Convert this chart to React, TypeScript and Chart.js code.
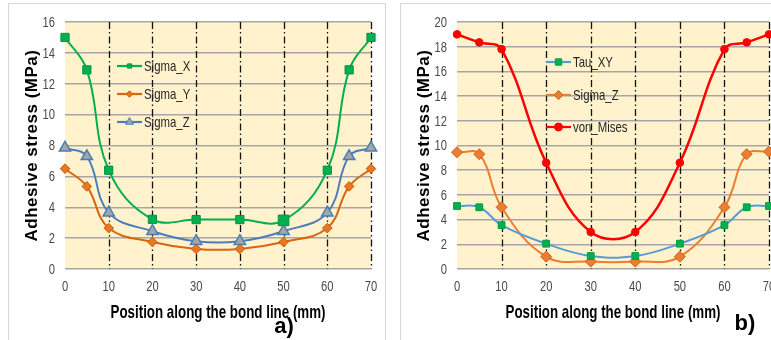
import React, { useEffect, useRef } from 'react';
import { Chart, registerables } from 'chart.js';
Chart.register(...registerables);

// ---------- data ----------
const positions = [0, 5, 10, 20, 30, 40, 50, 60, 65, 70];
const xTickStep = 10;
const yTickStep = 2;
const xGridValues = [10, 20, 30, 40, 50, 60, 70];

const sigmaX = [15, 12.9, 6.4, 3.22, 3.2, 3.2, 3.15, 6.4, 12.9, 15];
const sigmaY = [6.5, 5.35, 2.65, 1.75, 1.3, 1.3, 1.75, 2.65, 5.35, 6.5];
const sigmaZa = [7.85, 7.3, 3.65, 2.45, 1.8, 1.8, 2.45, 3.65, 7.3, 7.85];

const tauXY = [5.1, 5.0, 3.55, 2.05, 1.05, 1.05, 2.05, 3.55, 5.0, 5.1];
const sigmaZb = [9.45, 9.3, 5.0, 1.0, 0.6, 0.6, 1.0, 5.0, 9.3, 9.5];
const vonMises = [19, 18.35, 17.8, 8.6, 3.0, 3.0, 8.6, 17.8, 18.35, 19];

const yTitle = 'Adhesive stress (MPa)';
const xTitle = 'Position along the bond line (mm)';

const ARIAL = "'Liberation Sans', Arial, sans-serif";
const NARROW_SX = 0.8;

type MarkerStyle = 'rect' | 'rectRot' | 'triangle' | 'circle';

function drawMarker(ctx: CanvasRenderingContext2D, style: MarkerStyle, x: number, y: number, r: number, fill: string, stroke: string, lw: number) {
  ctx.save();
  ctx.beginPath();
  if (style === 'rect') {
    const s = r * Math.SQRT1_2;
    ctx.rect(x - s, y - s, 2 * s, 2 * s);
  } else if (style === 'rectRot') {
    ctx.moveTo(x, y - r); ctx.lineTo(x + r, y); ctx.lineTo(x, y + r); ctx.lineTo(x - r, y); ctx.closePath();
  } else if (style === 'triangle') {
    for (let k = 0; k < 3; k++) {
      const ang = -Math.PI / 2 + k * 2 * Math.PI / 3;
      const px = x + Math.cos(ang) * r, py = y + Math.sin(ang) * r;
      if (k === 0) ctx.moveTo(px, py); else ctx.lineTo(px, py);
    }
    ctx.closePath();
  } else {
    ctx.arc(x, y, r, 0, Math.PI * 2);
  }
  ctx.fillStyle = fill; ctx.fill();
  if (lw > 0) { ctx.lineWidth = lw; ctx.strokeStyle = stroke; ctx.stroke(); }
  ctx.restore();
}

function fillScaled(ctx: CanvasRenderingContext2D, text: string, x: number, y: number, sx: number, align: CanvasTextAlign) {
  ctx.save();
  ctx.translate(x, y);
  ctx.scale(sx, 1);
  ctx.textAlign = align;
  ctx.textBaseline = 'middle';
  ctx.fillText(text, 0, 0);
  ctx.restore();
}

interface Decor {
  label: string;
  labelDx: number;
  labelDy: number;
  legendDx: number;
  legendDy: number[];
  legendR: number[];
}

const decor = (d: Decor) => ({
  id: 'decor',
  beforeDraw(chart: any) {
    const { ctx, chartArea: a } = chart;
    ctx.save();
    ctx.fillStyle = '#fff2cc';
    ctx.fillRect(a.left, a.top, a.right - a.left, a.bottom - a.top);
    ctx.restore();
  },
  beforeDatasetsDraw(chart: any) {
    const { ctx, chartArea: a } = chart;
    const xs = chart.scales.x;
    ctx.save();
    ctx.beginPath();
    for (const v of xGridValues) {
      const px = Math.round(xs.getPixelForValue(v)) + 0.5;
      ctx.moveTo(px, a.top);
      ctx.lineTo(px, a.bottom);
    }
    ctx.setLineDash([7, 3, 1.5, 3]);
    ctx.strokeStyle = '#111';
    ctx.lineWidth = 1.3;
    ctx.stroke();
    ctx.restore();
  },
  afterDraw(chart: any) {
    const { ctx, chartArea: a } = chart;
    const xs = chart.scales.x;
    const ys = chart.scales.y;
    ctx.save();
    // tick labels (condensed)
    ctx.font = `14px ${ARIAL}`;
    ctx.fillStyle = '#4a4a4a';
    xs.ticks.forEach((t: any, i: number) => {
      fillScaled(ctx, String(t.value), xs.getPixelForTick(i), a.bottom + 18, NARROW_SX, 'center');
    });
    ys.ticks.forEach((t: any, i: number) => {
      fillScaled(ctx, String(t.value), a.left - 10, ys.getPixelForTick(i) + 1, NARROW_SX, 'right');
    });

    ctx.fillStyle = '#000';
    ctx.textAlign = 'center';
    ctx.textBaseline = 'middle';
    // y title
    ctx.save();
    ctx.translate(a.left - 33, (a.top + a.bottom) / 2);
    ctx.rotate(-Math.PI / 2);
    ctx.font = `bold 17px ${ARIAL}`;
    (ctx as any).letterSpacing = '0.5px';
    ctx.fillText(yTitle, 0, 0);
    ctx.restore();
    // x title
    ctx.font = `bold 19px ${ARIAL}`;
    const w = ctx.measureText(xTitle).width;
    fillScaled(ctx, xTitle, (a.left + a.right) / 2, a.bottom + 44, 215 / w, 'center');
    // panel label
    ctx.font = `bold 22px ${ARIAL}`;
    ctx.fillText(d.label, a.left + d.labelDx, a.bottom + d.labelDy);
    // legend
    chart.data.datasets.forEach((ds: any, i: number) => {
      const x0 = a.left + d.legendDx;
      const y = a.top + d.legendDy[i];
      ctx.save();
      ctx.beginPath();
      ctx.moveTo(x0, y); ctx.lineTo(x0 + 25, y);
      ctx.strokeStyle = ds.borderColor; ctx.lineWidth = 2.2;
      ctx.stroke();
      ctx.restore();
      drawMarker(ctx, ds.pointStyle, x0 + 12.5, y, d.legendR[i], ds.pointBackgroundColor, ds.pointBorderColor, 1);
      ctx.save();
      ctx.font = `15px ${ARIAL}`;
      ctx.fillStyle = '#262626';
      fillScaled(ctx, ds.label, x0 + 27, y + 1, 0.76, 'left');
      ctx.restore();
    });
    ctx.restore();
  },
});

interface Series { label: string; values: number[]; style: any }

function buildConfig(series: Series[], yMax: number, d: Decor): any {
  return {
    type: 'line',
    data: {
      datasets: series.map((s) => ({
        label: s.label,
        data: positions.map((x, i) => ({ x, y: s.values[i] })),
        clip: false,
        ...s.style,
      })),
    },
    options: {
      responsive: false,
      animation: false,
      layout: { padding: { top: 19, right: 15, left: 0, bottom: 0 } },
      plugins: { legend: { display: false }, tooltip: { enabled: false } },
      elements: { line: { tension: 0.4 } },
      scales: {
        x: {
          type: 'linear', min: 0, max: 70,
          afterFit: (s: any) => { s.height = 71; },
          grid: { display: false, drawTicks: false },
          border: { display: false },
          ticks: { stepSize: xTickStep, display: false, maxRotation: 0, autoSkip: false },
        },
        y: {
          min: 0, max: yMax,
          afterFit: (s: any) => { s.width = 57; },
          grid: { color: '#a6a6a6', lineWidth: 1.5, drawTicks: false },
          border: { display: false },
          ticks: { stepSize: yTickStep, display: false },
        },
      },
    },
    plugins: [decor(d)],
  };
}

const seriesA: Series[] = [
  { label: 'Sigma_X', values: sigmaX, style: { borderColor: '#00b050', borderWidth: 2, pointStyle: 'rect', pointBackgroundColor: '#00b050', pointBorderColor: '#00933f', pointBorderWidth: 1, pointRadius: (c: any) => (c.dataIndex === 6 ? 7.5 : 5.8) } },
  { label: 'Sigma_Y', values: sigmaY, style: { borderColor: '#d8650f', borderWidth: 2, pointStyle: 'rectRot', pointBackgroundColor: '#e87722', pointBorderColor: '#c55a11', pointBorderWidth: 1, pointRadius: 4.8 } },
  { label: 'Sigma_Z', values: sigmaZa, style: { borderColor: '#4a7ebb', borderWidth: 2, pointStyle: 'triangle', pointBackgroundColor: '#a5a5a5', pointBorderColor: '#4a7ebb', pointBorderWidth: 1.5, pointRadius: 6.5 } },
];

const seriesB: Series[] = [
  { label: 'Tau_XY', values: tauXY, style: { borderColor: '#5b9bd5', borderWidth: 2, pointStyle: 'rect', pointBackgroundColor: '#00b050', pointBorderColor: '#00a045', pointBorderWidth: 1, pointRadius: 4.8 } },
  { label: 'Sigma_Z', values: sigmaZb, style: { borderColor: '#ed7d31', borderWidth: 2, pointStyle: 'rectRot', pointBackgroundColor: '#ed7d31', pointBorderColor: '#c9641f', pointBorderWidth: 1, pointRadius: 5.5 } },
  { label: 'von_Mises', values: vonMises, style: { borderColor: '#ff0000', borderWidth: 2.5, pointStyle: 'circle', pointBackgroundColor: '#ff0000', pointBorderColor: '#ff0000', pointBorderWidth: 1, pointRadius: 3.8 } },
];

const decorA: Decor = { label: 'a)', labelDx: 219, labelDy: 58, legendDx: 52, legendDy: [44, 72, 100], legendR: [3, 3.2, 4.5] };
const decorB: Decor = { label: 'b)', labelDx: 288, labelDy: 55, legendDx: 89, legendDy: [40, 73, 105], legendR: [4.5, 4.5, 4] };

export default function App() {
  const refA = useRef<HTMLCanvasElement>(null);
  const refB = useRef<HTMLCanvasElement>(null);
  useEffect(() => {
    const a = new Chart(refA.current!, buildConfig(seriesA, 16, decorA));
    const b = new Chart(refB.current!, buildConfig(seriesB, 20, decorB));
    return () => { a.destroy(); b.destroy(); };
  }, []);
  const border = '1px solid #d6d6d6';
  return (
    <div style={{ position: 'absolute', left: 0, top: 0, width: 771, height: 340, overflow: 'hidden', background: '#fff' }}>
      <div style={{ position: 'absolute', left: 8, top: 3, width: 378, height: 360, boxSizing: 'border-box', borderLeft: border, borderTop: border, borderRight: border }} />
      <div style={{ position: 'absolute', left: 400, top: 3, width: 400, height: 360, boxSizing: 'border-box', borderLeft: border, borderTop: border }} />
      <canvas ref={refA} width={378} height={337} style={{ position: 'absolute', left: 8, top: 3, display: 'block' }} />
      <canvas ref={refB} width={384} height={337} style={{ position: 'absolute', left: 400, top: 3, display: 'block' }} />
    </div>
  );
}
